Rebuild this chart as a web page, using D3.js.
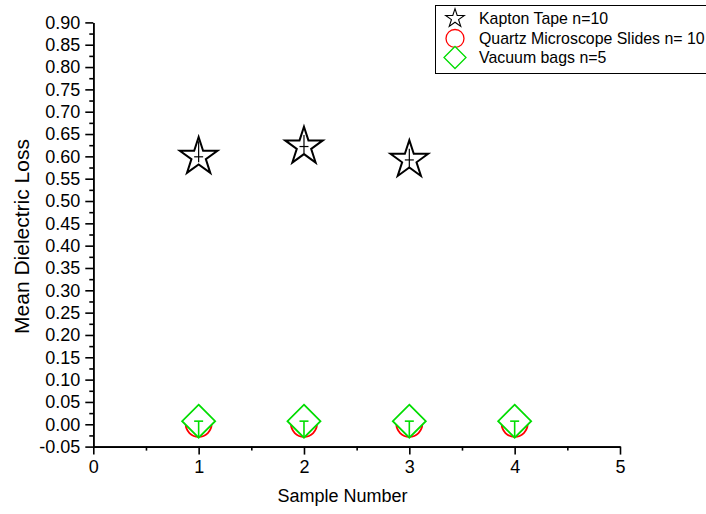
<!DOCTYPE html>
<html>
<head>
<meta charset="utf-8">
<script src="https://cdn.jsdelivr.net/npm/d3@7"></script>
<style>
  body { margin: 0; background: #fff; }
  svg { display: block; }
  text { font-family: "Liberation Sans", Arial, sans-serif; fill: #000; }
</style>
</head>
<body>
<svg id="chart" width="706" height="514"></svg>
<script>
// Kapton tape samples: mean dielectric loss with asymmetric error bars
const kaptonX = [1, 2, 3];
const kaptonMean = [0.599, 0.622, 0.592];
const kaptonErrUp = [0.035, 0.026, 0.025];
const kaptonErrDown = [0.012, 0.015, 0.020];

// Quartz microscope slides
const quartzX = [1, 2, 3, 4];
const quartzMean = [0.001, 0.001, 0.001, 0.001];

// Vacuum bags
const vacuumX = [1, 2, 3, 4];
const vacuumMean = [0.007, 0.007, 0.007, 0.007];
const vacuumErrUp = [0, 0, 0, 0];
const vacuumErrDown = [0.036, 0.036, 0.036, 0.036];

// Axis ticks
const xTickValues = [0, 1, 2, 3, 4, 5];
const xMinorValues = [0.5, 1.5, 2.5, 3.5, 4.5];
const yTickValues = [-0.05, 0.00, 0.05, 0.10, 0.15, 0.20, 0.25, 0.30, 0.35, 0.40,
                     0.45, 0.50, 0.55, 0.60, 0.65, 0.70, 0.75, 0.80, 0.85, 0.90];
const yMinorValues = yTickValues.slice(0, -1).map(v => +(v + 0.025).toFixed(3));

const legendLabels = ["Kapton Tape n=10", "Quartz Microscope Slides n= 10", "Vacuum bags n=5"];
const xTitle = "Sample Number";
const yTitle = "Mean Dielectric Loss";

const svg = d3.select("#chart");
const x = d3.scaleLinear().domain([0, 5]).range([93.3, 620]);
const y = d3.scaleLinear().domain([-0.05, 0.90]).range([446.6, 22.4]);

// five-pointed star path centred on the origin
function starPath(R) {
  const r = R * 0.382;
  const pts = [];
  for (let i = 0; i < 10; i++) {
    const rad = i % 2 === 0 ? R : r;
    const a = -Math.PI / 2 + i * Math.PI / 5;
    pts.push([rad * Math.cos(a), rad * Math.sin(a)]);
  }
  return "M" + pts.map(p => p[0].toFixed(2) + "," + p[1].toFixed(2)).join("L") + "Z";
}
function diamondPath(h) {
  return `M0,${-h}L${h},0L0,${h}L${-h},0Z`;
}

// axes
const fmt = v => d3.format(".2f")(v).replace("\u2212", "-");
const yAxis = svg.append("g").attr("transform", `translate(${x(0)},0)`)
  .call(d3.axisLeft(y).tickValues(yTickValues).tickFormat(fmt).tickSize(8).tickSizeOuter(0).tickPadding(5));
const yMinor = svg.append("g").attr("transform", `translate(${x(0)},0)`)
  .call(d3.axisLeft(y).tickValues(yMinorValues).tickFormat("").tickSize(4).tickSizeOuter(0));
const xAxis = svg.append("g").attr("transform", `translate(0,${y(-0.05)})`)
  .call(d3.axisBottom(x).tickValues(xTickValues).tickFormat(d3.format("d")).tickSize(8).tickSizeOuter(0).tickPadding(6));
const xMinor = svg.append("g").attr("transform", `translate(0,${y(-0.05)})`)
  .call(d3.axisBottom(x).tickValues(xMinorValues).tickFormat("").tickSize(4).tickSizeOuter(0));

[yAxis, yMinor, xAxis, xMinor].forEach(g => {
  g.selectAll("path.domain").attr("stroke", "#000").attr("stroke-width", 1.6);
  g.selectAll(".tick line").attr("stroke", "#000").attr("stroke-width", 1.6);
  g.selectAll(".tick text").attr("font-size", 18).attr("font-family", '"Liberation Sans", Arial, sans-serif').attr("fill", "#000");
});

// axis titles
svg.append("text").attr("x", 342.5).attr("y", 502).attr("text-anchor", "middle")
  .attr("font-size", 18).text(xTitle);
svg.append("text").attr("transform", `translate(29,236.5) rotate(-90)`).attr("text-anchor", "middle")
  .attr("font-size", 21).text(yTitle);

// quartz: red circles
svg.append("g").selectAll("circle").data(quartzX).join("circle")
  .attr("cx", (d, i) => x(d)).attr("cy", (d, i) => y(quartzMean[i])).attr("r", 13)
  .attr("fill", "#fff").attr("stroke", "#ff0000").attr("stroke-width", 1.8);

// vacuum bags: green diamonds with error bars
const vac = svg.append("g").selectAll("g").data(vacuumX).join("g")
  .attr("transform", (d, i) => `translate(${x(d)},${y(vacuumMean[i])})`);
vac.append("path").attr("d", diamondPath(16.5))
  .attr("fill", "#fff").attr("stroke", "#00dd00").attr("stroke-width", 1.8);
svg.append("g").selectAll("g").data(vacuumX).join("g").each(function (d, i) {
  const g = d3.select(this);
  const cx = x(d);
  g.append("line").attr("x1", cx).attr("x2", cx)
    .attr("y1", y(vacuumMean[i] + vacuumErrUp[i])).attr("y2", y(vacuumMean[i] - vacuumErrDown[i]))
    .attr("stroke", "#00dd00").attr("stroke-width", 1.6);
  g.append("line").attr("x1", cx - 4.5).attr("x2", cx + 4.5)
    .attr("y1", y(vacuumMean[i])).attr("y2", y(vacuumMean[i]))
    .attr("stroke", "#00dd00").attr("stroke-width", 1.6);
});

// kapton: black stars with error bars
svg.append("g").selectAll("path").data(kaptonX).join("path")
  .attr("transform", (d, i) => `translate(${x(d)},${y(kaptonMean[i])})`)
  .attr("d", starPath(19.8))
  .attr("fill", "#fff").attr("stroke", "#000").attr("stroke-width", 2).attr("stroke-linejoin", "miter");
svg.append("g").selectAll("g").data(kaptonX).join("g").each(function (d, i) {
  const g = d3.select(this);
  const cx = x(d);
  g.append("line").attr("x1", cx).attr("x2", cx)
    .attr("y1", y(kaptonMean[i] + kaptonErrUp[i])).attr("y2", y(kaptonMean[i] - kaptonErrDown[i]))
    .attr("stroke", "#000").attr("stroke-width", 1.2);
  g.append("line").attr("x1", cx - 4.5).attr("x2", cx + 4.5)
    .attr("y1", y(kaptonMean[i])).attr("y2", y(kaptonMean[i]))
    .attr("stroke", "#000").attr("stroke-width", 1.2);
});

// legend
const legend = svg.append("g");
legend.append("rect").attr("x", 435.5).attr("y", 5.5).attr("width", 290).attr("height", 68)
  .attr("fill", "#fff").attr("stroke", "#000").attr("stroke-width", 1);
const rowY = [18.5, 38.5, 57.5];
legend.append("path").attr("transform", `translate(455,${rowY[0]})`).attr("d", starPath(9.8))
  .attr("fill", "#fff").attr("stroke", "#000").attr("stroke-width", 1.1);
legend.append("circle").attr("cx", 455).attr("cy", rowY[1]).attr("r", 9)
  .attr("fill", "#fff").attr("stroke", "#ff0000").attr("stroke-width", 1.3);
legend.append("path").attr("transform", `translate(455,${rowY[2]})`).attr("d", diamondPath(11))
  .attr("fill", "#fff").attr("stroke", "#00dd00").attr("stroke-width", 1.3);
legend.selectAll("text.lab").data(legendLabels).join("text").attr("class", "lab")
  .attr("x", 479).attr("y", (d, i) => rowY[i] + 5.5).attr("font-size", 15.9).text(d => d);
</script>
</body>
</html>
